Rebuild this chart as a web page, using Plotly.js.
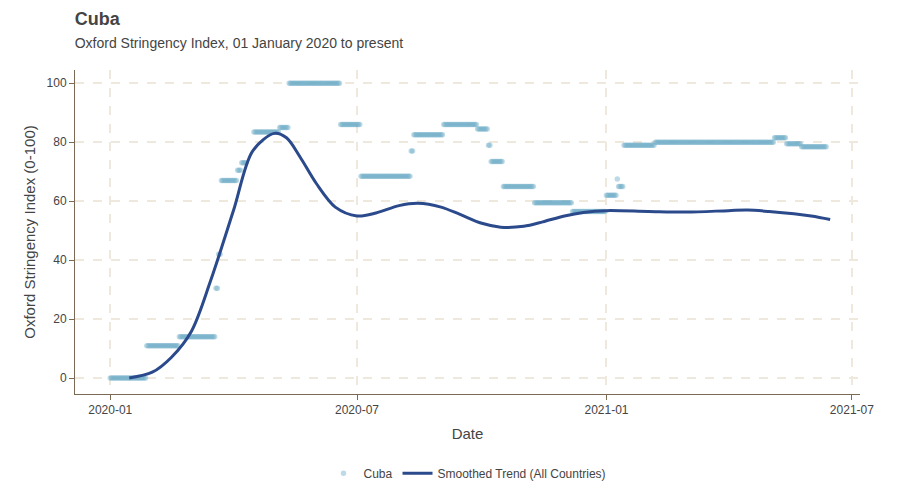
<!DOCTYPE html>
<html><head><meta charset="utf-8">
<script src="https://cdn.plot.ly/plotly-3.0.1.min.js"></script>
<style>body{margin:0;background:#fff}#chart{width:900px;height:500px}</style>
</head><body><div id="chart"></div>
<script>
// Cuba stringency: step segments [start, end, value]
const segStart = ["2020-01-01","2020-01-28","2020-02-21","2020-03-19","2020-03-21","2020-03-23","2020-04-04","2020-04-07","2020-04-16","2020-05-05","2020-05-12","2020-06-19","2020-07-04","2020-08-10","2020-08-12","2020-09-03","2020-09-28","2020-10-06","2020-10-08","2020-10-17","2020-11-09","2020-12-07","2021-01-01","2021-01-09","2021-01-10","2021-01-14","2021-02-06","2021-05-05","2021-05-14","2021-05-25"];
const segEnd   = ["2020-01-27","2020-02-20","2020-03-18","2020-03-20","2020-03-22","2020-04-03","2020-04-06","2020-04-10","2020-05-04","2020-05-11","2020-06-18","2020-07-03","2020-08-09","2020-08-11","2020-09-02","2020-09-27","2020-10-05","2020-10-07","2020-10-16","2020-11-08","2020-12-06","2020-12-31","2021-01-08","2021-01-09","2021-01-13","2021-02-05","2021-05-04","2021-05-13","2021-05-24","2021-06-12"];
const segValue = [0,11,14,30.5,42,67,70.5,73,83.5,85,100,86,68.5,77,82.5,86,84.5,79,73.5,65,59.5,56.5,62,67.5,65,79,80,81.5,79.5,78.5];

const trendDates = ["2020-01-15","2020-02-01","2020-02-15","2020-03-01","2020-03-15","2020-04-01","2020-04-15","2020-05-01","2020-05-10","2020-05-20","2020-06-01","2020-06-15","2020-07-01","2020-07-15","2020-08-01","2020-08-15","2020-09-01","2020-09-15","2020-10-01","2020-10-15","2020-11-01","2020-11-15","2020-12-01","2020-12-15","2021-01-01","2021-02-01","2021-03-01","2021-04-01","2021-04-15","2021-05-01","2021-06-01","2021-06-15"];
const trendValues = [0,2,7,16,33,57,77,83,81.5,75,66,58,55,56,58.5,59.3,58,55.5,52.5,51.2,51.5,53,55,56.2,56.8,56.5,56.3,56.8,57,56.5,55,53.8];

const dx = [], dy = [];
segStart.forEach((s, i) => {
  let d = new Date(s + "T00:00:00Z");
  const e = new Date(segEnd[i] + "T00:00:00Z");
  while (d <= e) {
    dx.push(d.toISOString().slice(0, 10));
    dy.push(segValue[i]);
    d = new Date(d.getTime() + 86400000);
  }
});

const traces = [
  {x: dx, y: dy, mode: "markers", name: "Cuba", type: "scatter",
   marker: {color: "rgba(110,172,200,0.45)", size: 5.5}},
  {x: trendDates, y: trendValues, mode: "lines", name: "Smoothed Trend (All Countries)",
   line: {color: "#2b4a8b", width: 3, shape: "spline", smoothing: 0.9}}
];

const grid = {showgrid: true, gridcolor: "#efe8dd", griddash: "dash", gridwidth: 1.5, zeroline: false,
  showline: true, linecolor: "#7a6a55", linewidth: 1, ticks: "outside", tickcolor: "#7a6a55",
  tickfont: {size: 12, color: "#444"}};

Plotly.newPlot("chart", traces, {
  width: 900, height: 500,
  paper_bgcolor: "#fff", plot_bgcolor: "#fff",
  font: {family: "Liberation Sans, Arial, sans-serif", color: "#444"},
  margin: {l: 75, r: 40, t: 70, b: 102},
  title: {text: "<b>Cuba</b><br><span style='font-size:14px'>Oxford Stringency Index, 01 January 2020 to present</span>",
    x: 0.083, xanchor: "left", y: 0.95, yanchor: "top", font: {size: 18, color: "#444"}},
  xaxis: Object.assign({}, grid, {type: "date", range: ["2019-12-06", "2021-07-07"],
    tickvals: ["2020-01-01","2020-07-01","2021-01-01","2021-07-01"],
    ticktext: ["2020-01","2020-07","2021-01","2021-07"],
    title: {text: "Date", standoff: 12, font: {size: 15, color: "#444"}}}),
  yaxis: Object.assign({}, grid, {range: [-5.4, 104.5], tickvals: [0,20,40,60,80,100],
    title: {text: "Oxford Stringency Index (0-100)", font: {size: 15, color: "#444"}}}),
  legend: {orientation: "h", x: 0.5, xanchor: "center", y: -0.2, font: {size: 12, color: "#444"}},
  showlegend: true
}, {displayModeBar: false});
</script></body></html>
